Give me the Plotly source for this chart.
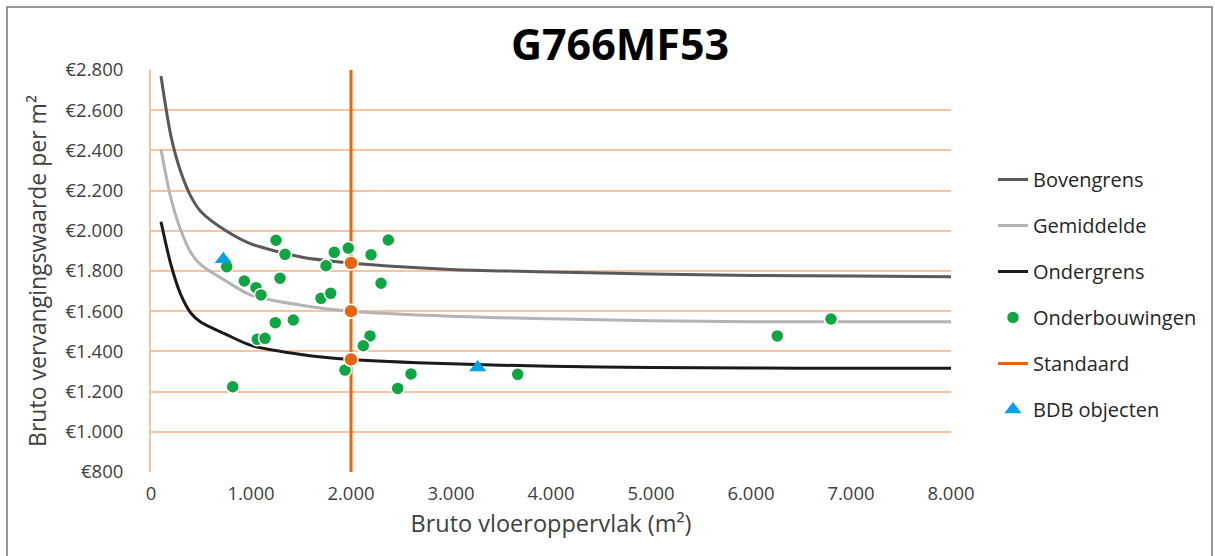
import plotly.graph_objects as go

# Curves (bruto vloeroppervlak, waarde per m2)
curve_x = [100, 200, 300, 400, 500, 750, 1000, 1500, 2000, 3000, 4000, 5000, 6000, 7000, 8000]
bovengrens = [2770, 2470, 2290, 2170, 2095, 2000, 1935, 1870, 1840, 1808, 1795, 1785, 1778, 1775, 1772]
gemiddelde = [2405, 2160, 2000, 1890, 1830, 1750, 1680, 1630, 1600, 1575, 1562, 1553, 1548, 1547, 1547]
ondergrens = [2045, 1830, 1680, 1590, 1545, 1485, 1430, 1385, 1360, 1338, 1326, 1320, 1317, 1316, 1316]

# Standaard
standaard_x = [2000, 2000]
standaard_y = [800, 2800]
standaard_pts_x = [2000, 2000, 2000]
standaard_pts_y = [1360, 1600, 1840]

# Onderbouwingen
onderb_x = [1250, 1340, 757, 933, 1050, 1100, 1290, 1833, 1973, 1750, 2200, 2373, 2300, 1700,
            1797, 1243, 1423, 1063, 1140, 2190, 2123, 1940, 817, 2600, 2467, 3667, 6263, 6800]
onderb_y = [1953, 1883, 1821, 1750, 1717, 1681, 1764, 1893, 1914, 1826, 1881, 1954, 1739, 1664,
            1689, 1543, 1556, 1460, 1465, 1477, 1428, 1307, 1224, 1288, 1216, 1286, 1477, 1561]

# BDB objecten
bdb_x = [723, 3267]
bdb_y = [1858, 1320]

x_ticks = [0, 1000, 2000, 3000, 4000, 5000, 6000, 7000, 8000]
x_labels = ["0", "1.000", "2.000", "3.000", "4.000", "5.000", "6.000", "7.000", "8.000"]
y_ticks = [800, 1000, 1200, 1400, 1600, 1800, 2000, 2200, 2400, 2600, 2800]
y_labels = ["€800", "€1.000", "€1.200", "€1.400", "€1.600", "€1.800", "€2.000",
            "€2.200", "€2.400", "€2.600", "€2.800"]

FONT = "Open Sans"
fig = go.Figure()

fig.add_trace(go.Scatter(x=curve_x, y=bovengrens, mode="lines", name="Bovengrens",
                         line=dict(color="#595959", width=3, shape="spline", smoothing=0.8),
                         legendrank=1, legendgroup="a"))
fig.add_trace(go.Scatter(x=curve_x, y=gemiddelde, mode="lines", name="Gemiddelde",
                         line=dict(color="#B4B4B4", width=3, shape="spline", smoothing=0.8),
                         legendrank=2, legendgroup="b"))
fig.add_trace(go.Scatter(x=curve_x, y=ondergrens, mode="lines", name="Ondergrens",
                         line=dict(color="#1A1A1A", width=3, shape="spline", smoothing=0.8),
                         legendrank=3, legendgroup="c"))
fig.add_trace(go.Scatter(x=standaard_x, y=standaard_y, mode="lines", name="Standaard",
                         line=dict(color="#E8650F", width=3),
                         legendrank=5, legendgroup="e"))
fig.add_trace(go.Scatter(x=onderb_x, y=onderb_y, mode="markers", name="Onderbouwingen",
                         marker=dict(color="#10A543", size=13, line=dict(color="white", width=1.5)),
                         legendrank=4, legendgroup="d"))
fig.add_trace(go.Scatter(x=standaard_pts_x, y=standaard_pts_y, mode="markers", name="Standaard",
                         marker=dict(color="#E8650F", size=14, line=dict(color="white", width=1.5)),
                         showlegend=False, legendgroup="e"))
fig.add_trace(go.Scatter(x=bdb_x, y=bdb_y, mode="markers", name="BDB objecten",
                         marker=dict(color="#00A3E4", size=15, symbol="triangle-up"),
                         legendrank=6, legendgroup="f"))

fig.update_layout(
    width=1215, height=556,
    margin=dict(l=151, r=264, t=70, b=84),
    paper_bgcolor="white", plot_bgcolor="white",
    font=dict(family=FONT, color="#404040"),
    title=dict(text="<b>G766MF53</b>", x=(620 - 151) / 800, xref="paper", xanchor="center",
               y=1 - 45 / 556, yanchor="middle", font=dict(size=43, color="#000000", family=FONT)),
    showlegend=True,
    legend=dict(x=(993 - 151) / 800, xanchor="left", y=(472 - 160) / 402, yanchor="top",
                font=dict(size=20, color="#262626", family=FONT), tracegroupgap=17,
                bgcolor="rgba(0,0,0,0)", itemwidth=30),
    shapes=[dict(type="rect", xref="paper", yref="paper",
                 x0=(7 - 151) / 800, x1=(1212 - 151) / 800,
                 y0=(472 - 570) / 402, y1=(472 - 7) / 402,
                 line=dict(color="#777777", width=1.5), layer="below")],
)

fig.update_xaxes(range=[0, 8000], tickvals=x_ticks, ticktext=x_labels, showgrid=False,
                 zeroline=False, showline=False, ticks="", ticklabelstandoff=8,
                 tickfont=dict(size=18.5, color="#404040"),
                 title=dict(text="Bruto vloeroppervlak (m²)", font=dict(size=23.5, color="#404040"), standoff=12))
fig.update_yaxes(range=[800, 2800], tickvals=y_ticks, ticktext=y_labels,
                 showgrid=True, gridcolor="#F8C3A0", gridwidth=2,
                 zeroline=False, showline=True, linecolor="#F8C3A0", linewidth=2,
                 ticks="", ticklabelstandoff=22,
                 tickfont=dict(size=18.5, color="#404040"),
                 title=dict(text="Bruto vervangingswaarde per m²", font=dict(size=23, color="#404040"), standoff=12))

fig.write_html("out.html")
